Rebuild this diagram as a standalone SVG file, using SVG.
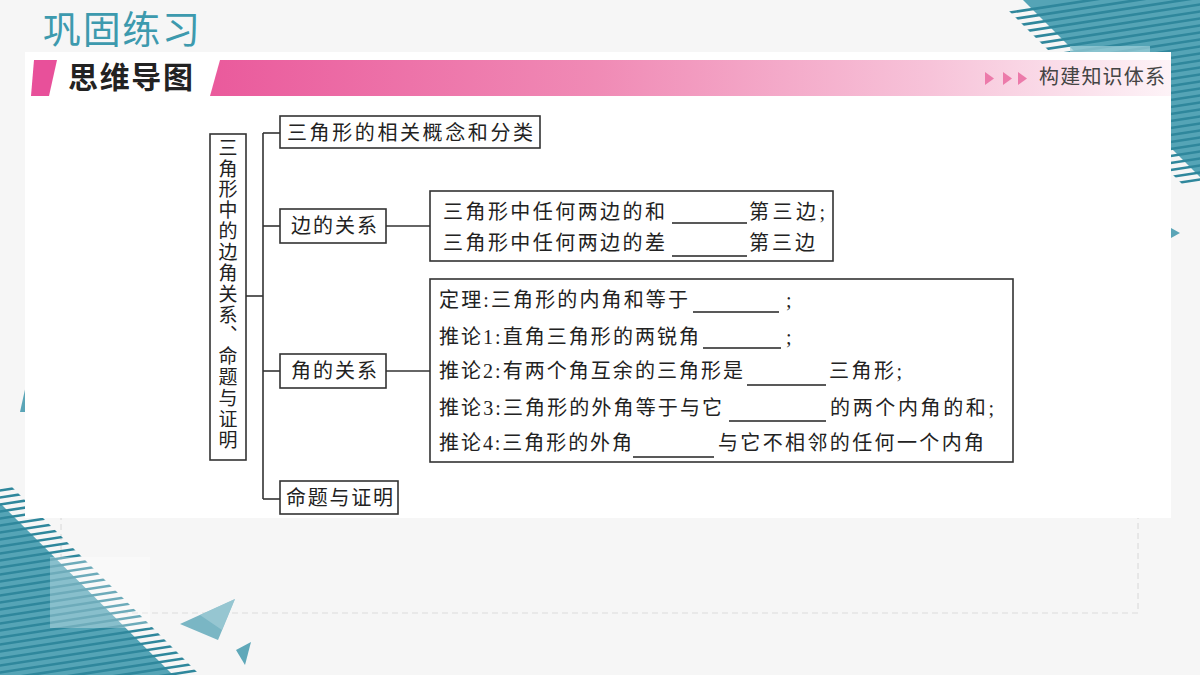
<svg xmlns="http://www.w3.org/2000/svg" width="1200" height="675" viewBox="0 0 1200 675">
<defs>
<style>
.bx{fill:#fff;stroke:#333;stroke-width:1.6}
.cn{fill:none;stroke:#333;stroke-width:1.6}
.ul{stroke:#222;stroke-width:1.4}
.t{font-family:"Liberation Serif","Noto Sans CJK SC",serif;font-size:20px;fill:#222}
.vt{font-family:"Noto Sans CJK SC",sans-serif;font-size:19px;fill:#222;writing-mode:vertical-rl;letter-spacing:1.86px}
.st{stroke:#2f879c;stroke-width:2.6}
</style>
<linearGradient id="pk" x1="0" y1="0" x2="1" y2="0">
<stop offset="0" stop-color="#ea5a9c"/>
<stop offset="0.4" stop-color="#f08ab5"/>
<stop offset="0.75" stop-color="#f7c3d9"/>
<stop offset="1" stop-color="#fdf3f7"/>
</linearGradient>
<clipPath id="trc"><polygon points="998,0 1200,0 1200,202"/></clipPath>
<clipPath id="blc"><polygon points="0,475 0,675 200,675"/></clipPath>
</defs>
<rect x="0" y="0" width="1200" height="675" fill="#f6f6f6"/>
<g id="deco-top-right">
<polygon points="1023,0 1200,0 1200,177" fill="#55a4b6"/>
<g clip-path="url(#trc)">
<line class="st" x1="1000" y1="14" x2="1210" y2="-18"/>
<line class="st" x1="1000" y1="21" x2="1210" y2="-11"/>
<line class="st" x1="1000" y1="28" x2="1210" y2="-4"/>
<line class="st" x1="1000" y1="35" x2="1210" y2="3"/>
<line class="st" x1="1000" y1="42" x2="1210" y2="10"/>
<line class="st" x1="1000" y1="49" x2="1210" y2="17"/>
<line class="st" x1="1000" y1="56" x2="1210" y2="24"/>
<line class="st" x1="1000" y1="63" x2="1210" y2="31"/>
<line class="st" x1="1000" y1="70" x2="1210" y2="38"/>
<line class="st" x1="1000" y1="77" x2="1210" y2="45"/>
<line class="st" x1="1000" y1="84" x2="1210" y2="52"/>
<line class="st" x1="1000" y1="91" x2="1210" y2="59"/>
<line class="st" x1="1000" y1="98" x2="1210" y2="66"/>
<line class="st" x1="1000" y1="105" x2="1210" y2="73"/>
<line class="st" x1="1000" y1="112" x2="1210" y2="80"/>
<line class="st" x1="1000" y1="119" x2="1210" y2="87"/>
<line class="st" x1="1000" y1="126" x2="1210" y2="94"/>
<line class="st" x1="1000" y1="133" x2="1210" y2="101"/>
<line class="st" x1="1000" y1="140" x2="1210" y2="108"/>
<line class="st" x1="1000" y1="147" x2="1210" y2="115"/>
<line class="st" x1="1000" y1="154" x2="1210" y2="122"/>
<line class="st" x1="1000" y1="161" x2="1210" y2="129"/>
<line class="st" x1="1000" y1="168" x2="1210" y2="136"/>
<line class="st" x1="1000" y1="175" x2="1210" y2="143"/>
<line class="st" x1="1000" y1="182" x2="1210" y2="150"/>
<line class="st" x1="1000" y1="189" x2="1210" y2="157"/>
<line class="st" x1="1000" y1="196" x2="1210" y2="164"/>
<line class="st" x1="1000" y1="203" x2="1210" y2="171"/>
<line class="st" x1="1000" y1="210" x2="1210" y2="178"/>
</g>
<rect x="1070" y="46" width="80" height="8" fill="#9fd0da" opacity="0.7"/>
<polygon points="1171,228 1180,233 1171,238" fill="#5aa5b7"/>
</g>
<g id="deco-bottom-left">
<rect x="61" y="470" width="1077" height="143" fill="none" stroke="#dcdcdc" stroke-width="1.2" stroke-dasharray="6 4"/>
<polygon points="0,503 0,675 173,675" fill="#55a4b6"/>
<g clip-path="url(#blc)">
<line class="st" x1="-10" y1="492" x2="200" y2="460"/>
<line class="st" x1="-10" y1="499" x2="200" y2="467"/>
<line class="st" x1="-10" y1="506" x2="200" y2="474"/>
<line class="st" x1="-10" y1="513" x2="200" y2="481"/>
<line class="st" x1="-10" y1="520" x2="200" y2="488"/>
<line class="st" x1="-10" y1="527" x2="200" y2="495"/>
<line class="st" x1="-10" y1="534" x2="200" y2="502"/>
<line class="st" x1="-10" y1="541" x2="200" y2="509"/>
<line class="st" x1="-10" y1="548" x2="200" y2="516"/>
<line class="st" x1="-10" y1="555" x2="200" y2="523"/>
<line class="st" x1="-10" y1="562" x2="200" y2="530"/>
<line class="st" x1="-10" y1="569" x2="200" y2="537"/>
<line class="st" x1="-10" y1="576" x2="200" y2="544"/>
<line class="st" x1="-10" y1="583" x2="200" y2="551"/>
<line class="st" x1="-10" y1="590" x2="200" y2="558"/>
<line class="st" x1="-10" y1="597" x2="200" y2="565"/>
<line class="st" x1="-10" y1="604" x2="200" y2="572"/>
<line class="st" x1="-10" y1="611" x2="200" y2="579"/>
<line class="st" x1="-10" y1="618" x2="200" y2="586"/>
<line class="st" x1="-10" y1="625" x2="200" y2="593"/>
<line class="st" x1="-10" y1="632" x2="200" y2="600"/>
<line class="st" x1="-10" y1="639" x2="200" y2="607"/>
<line class="st" x1="-10" y1="646" x2="200" y2="614"/>
<line class="st" x1="-10" y1="653" x2="200" y2="621"/>
<line class="st" x1="-10" y1="660" x2="200" y2="628"/>
<line class="st" x1="-10" y1="667" x2="200" y2="635"/>
<line class="st" x1="-10" y1="674" x2="200" y2="642"/>
<line class="st" x1="-10" y1="681" x2="200" y2="649"/>
<line class="st" x1="-10" y1="688" x2="200" y2="656"/>
<line class="st" x1="-10" y1="695" x2="200" y2="663"/>
<line class="st" x1="-10" y1="702" x2="200" y2="670"/>
</g>
<rect x="50" y="557" width="100" height="71" fill="#fff" opacity="0.3"/>
<polygon points="180,624 235,599 218,640" fill="#7ab6c4"/>
<polygon points="200,615 235,599 222,630" fill="#a9d0da" opacity="0.6"/>
<polygon points="236,650 251,642 245,665" fill="#5fa8b9"/>
<polygon points="20,412 26,385 26,412" fill="#5aa5b7"/>
</g>
<rect id="panel" x="25" y="52" width="1146" height="466" fill="#fff"/>
<g id="header">
<text x="43" y="43" font-family="Noto Sans CJK SC,sans-serif" font-size="38" fill="#3d9aae" textLength="157">巩固练习</text>
<polygon points="34,60 57,60 49,96 31,96" fill="#e8509a"/>
<polygon points="220,60 1171,60 1171,96 210,96" fill="url(#pk)"/>
<text x="68" y="88" font-family="Noto Sans CJK SC,sans-serif" font-size="30" font-weight="700" fill="#222" textLength="125">思维导图</text>
<polygon points="985,72 994,78.5 985,85" fill="#ec7aaa"/>
<polygon points="1003,72 1012,78.5 1003,85" fill="#ec7aaa"/>
<polygon points="1018,72 1027,78.5 1018,85" fill="#ec7aaa"/>
<text x="1039" y="84" font-family="Noto Sans CJK SC,sans-serif" font-size="20" fill="#444" textLength="126">构建知识体系</text>
</g>
<g id="connectors">
<line class="cn" x1="246" y1="296" x2="263" y2="296"/>
<line class="cn" x1="263" y1="133" x2="263" y2="499"/>
<line class="cn" x1="263" y1="133" x2="280" y2="133"/>
<line class="cn" x1="263" y1="226" x2="280" y2="226"/>
<line class="cn" x1="263" y1="371" x2="280" y2="371"/>
<line class="cn" x1="263" y1="499" x2="280" y2="499"/>
<line class="cn" x1="386" y1="226" x2="430" y2="226"/>
<line class="cn" x1="386" y1="371" x2="430" y2="371"/>
</g>
<g id="root">
<rect class="bx" x="210" y="134" width="36" height="326"/>
<text class="vt" x="228" y="138">三角形中的边角关系、命题与证明</text>
</g>
<g id="n-concept">
<rect class="bx" x="280" y="116" width="260" height="32"/>
<text class="t" x="287" y="140" textLength="246">三角形的相关概念和分类</text>
</g>
<g id="n-side">
<rect class="bx" x="280" y="209" width="106" height="34"/>
<text class="t" x="291" y="233" textLength="86">边的关系</text>
</g>
<g id="n-side-detail">
<rect class="bx" x="430" y="191" width="403" height="70"/>
<text class="t" x="443" y="219" textLength="222">三角形中任何两边的和</text>
<line class="ul" x1="672" y1="223" x2="747" y2="223"/>
<text class="t" x="749" y="219" textLength="76">第三边;</text>
<text class="t" x="443" y="250" textLength="222">三角形中任何两边的差</text>
<line class="ul" x1="672" y1="256" x2="747" y2="256"/>
<text class="t" x="749" y="250" textLength="66">第三边</text>
</g>
<g id="n-angle">
<rect class="bx" x="280" y="354" width="106" height="34"/>
<text class="t" x="291" y="378" textLength="86">角的关系</text>
</g>
<g id="n-angle-detail">
<rect class="bx" x="430" y="279" width="583" height="183"/>
<text class="t" x="439" y="307" textLength="249">定理:三角形的内角和等于</text>
<line class="ul" x1="693" y1="312" x2="779" y2="312"/>
<text class="t" x="786" y="307">;</text>
<text class="t" x="439" y="344" textLength="260">推论1:直角三角形的两锐角</text>
<line class="ul" x1="703" y1="348" x2="781" y2="348"/>
<text class="t" x="786" y="344">;</text>
<text class="t" x="439" y="378" textLength="304">推论2:有两个角互余的三角形是</text>
<line class="ul" x1="747" y1="385" x2="826" y2="385"/>
<text class="t" x="829" y="378" textLength="73">三角形;</text>
<text class="t" x="439" y="415" textLength="283">推论3:三角形的外角等于与它</text>
<line class="ul" x1="729" y1="421" x2="826" y2="421"/>
<text class="t" x="830" y="415" textLength="164">的两个内角的和;</text>
<text class="t" x="439" y="450" textLength="193">推论4:三角形的外角</text>
<line class="ul" x1="633" y1="457" x2="714" y2="457"/>
<text class="t" x="718" y="450" textLength="266">与它不相邻的任何一个内角</text>
</g>
<g id="n-proof">
<rect class="bx" x="280" y="481" width="118" height="33"/>
<text class="t" x="286" y="505" textLength="107">命题与证明</text>
</g>
</svg>
